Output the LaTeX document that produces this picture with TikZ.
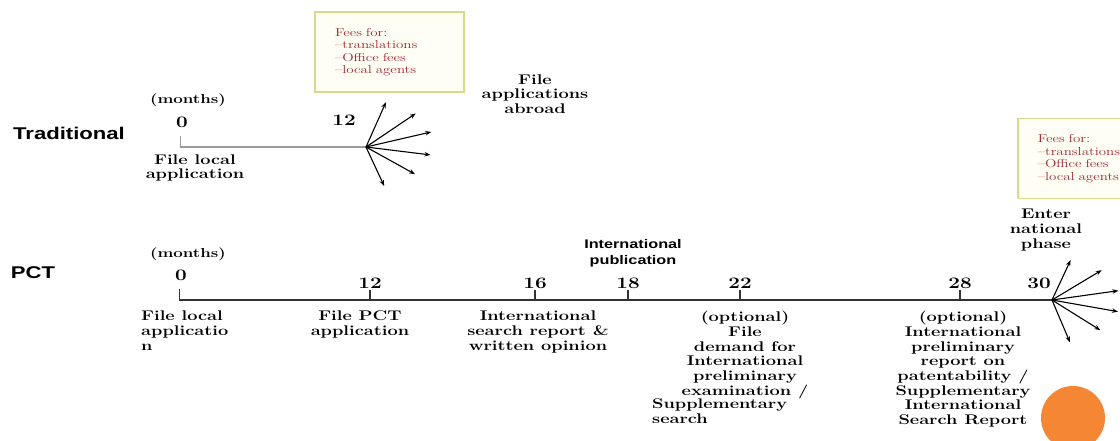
\documentclass[tikz,border=0pt]{standalone}
\usepackage{fontspec}
\setmainfont{Latin Modern Roman}[FakeStretch=1.3]
\setsansfont{Liberation Sans}[FakeStretch=1.3]
\usepackage{xcolor}
\usetikzlibrary{arrows.meta}

\definecolor{feered}{HTML}{9E2A35}
\definecolor{boxline}{HTML}{D9D98A}
\definecolor{boxfill}{HTML}{FFFEF4}
\definecolor{dotorange}{HTML}{F58634}
\definecolor{tradgray}{HTML}{9A9A9A}
\definecolor{pctline}{HTML}{333333}

\begin{document}
\begin{tikzpicture}[x=1pt,y=-1pt,
  lane/.style={font=\sffamily\bfseries\fontsize{17}{20}\selectfont},
  lbl/.style={font=\bfseries\fontsize{14}{14.7}\selectfont,align=center,inner sep=0},
  num/.style={font=\bfseries\fontsize{16}{18}\selectfont,inner sep=0},
  mnth/.style={font=\bfseries\fontsize{13}{15}\selectfont,inner sep=0},
  pub/.style={font=\sffamily\bfseries\fontsize{12.5}{16}\selectfont,align=center,inner sep=0},
  feebox/.style={draw=boxline,line width=1.5pt,fill=boxfill,text=feered,
    font=\fontsize{11.5}{12.5}\selectfont,align=left,text width=109,
    inner xsep=20,minimum height=80},
  fan/.style={line width=1.1pt,-{Stealth[length=6pt,width=4.5pt]}}]
\clip (0,0) rectangle (1120,441);
\fill[white] (0,0) rectangle (1120,441);

% rows
\node[lane] (trad) at (69,133) {Traditional};
\node[lane] (pct) at (33,273) {PCT};

% traditional route
\coordinate (t0) at (180,147);
\coordinate (f1) at (366,147);
\draw[tradgray,line width=1.5pt] (t0) -- (f1);
\coordinate (t0top) at (180,136);
\draw[tradgray,line width=1pt] (t0top) -- (t0);
\node[mnth] (tmonths) at (188,100) {(months)};
\node[num] (tzero) at (182,122) {0};
\node[num] (ttwelve) at (344,120) {12};
\node[lbl] (tlocal) at (195,168) {File local\\application};
\foreach \a/\l [count=\i] in {66/49,34/60,13/67,-7/65,-29/56,-65/43}
  {\path (f1) ++(\a:\l pt) coordinate (f1-\i);
   \draw[fan] (f1) -- (f1-\i);}
\node[lbl] (abroad) at (535,94) {File\\applications\\abroad};
\node[feebox] (fees1) at (389.5,52) {Fees for:\\--translations\\--Office fees\\--local agents};

% pct route
\coordinate (p0) at (179,300);
\coordinate (f2) at (1052,300);
\draw[pctline,line width=2.2pt] (p0) -- (f2);
\coordinate (p0top) at (179,289);
\draw[pctline,line width=1pt] (p0top) -- (p0);
\node[mnth] (pmonths) at (188,254) {(months)};
\node[num] (pzero) at (181,275) {0};
\foreach \m/\x in {12/370,16/535,18/628,22/740,28/960}
  {\coordinate (p\m) at (\x,300);
   \coordinate (p\m top) at (\x,290);
   \draw[pctline,line width=2pt] (p\m top) -- (p\m);
   \node[num] (n\m) at (\x,283) {\m};}
\node[num] (n30) at (1039,283) {30};
\foreach \a/\l [count=\i] in {65/44,31/58,8/67,-10/67,-32/57,-67/46}
  {\path (f2) ++(\a:\l pt) coordinate (f2-\i);
   \draw[fan] (f2) -- (f2-\i);}
\node[lbl] (enter) at (1046,230) {Enter\\national\\phase};
\node[pub] (intpub) at (633,253) {International\\publication};
\node[feebox,anchor=north west] (fees2) at (1017,118) {Fees for:\\--translations\\--Office fees\\--local agents};

\node[lbl,align=left,anchor=north west] (plocal) at (141,311) {File local\\applicatio\\n};
\node[lbl,anchor=north] (pfile) at (360,311) {File PCT\\application};
\node[lbl,anchor=north] (psearch) at (538,311) {International\\search report \&\\written opinion};
\node[lbl,anchor=north] (pdemand) at (745,311) {(optional)\\File\\demand for\\International\\preliminary\\examination /};
\node[lbl,align=left,anchor=north west] (psupp) at (652,399) {Supplementary\\search};
\node[lbl,anchor=north] (preport) at (963,311) {(optional)\\International\\preliminary\\report on\\patentability /\\Supplementary\\International\\Search Report};

\node[circle,fill=dotorange,minimum size=64,inner sep=0] (dot) at (1073,418) {};
\end{tikzpicture}
\end{document}
